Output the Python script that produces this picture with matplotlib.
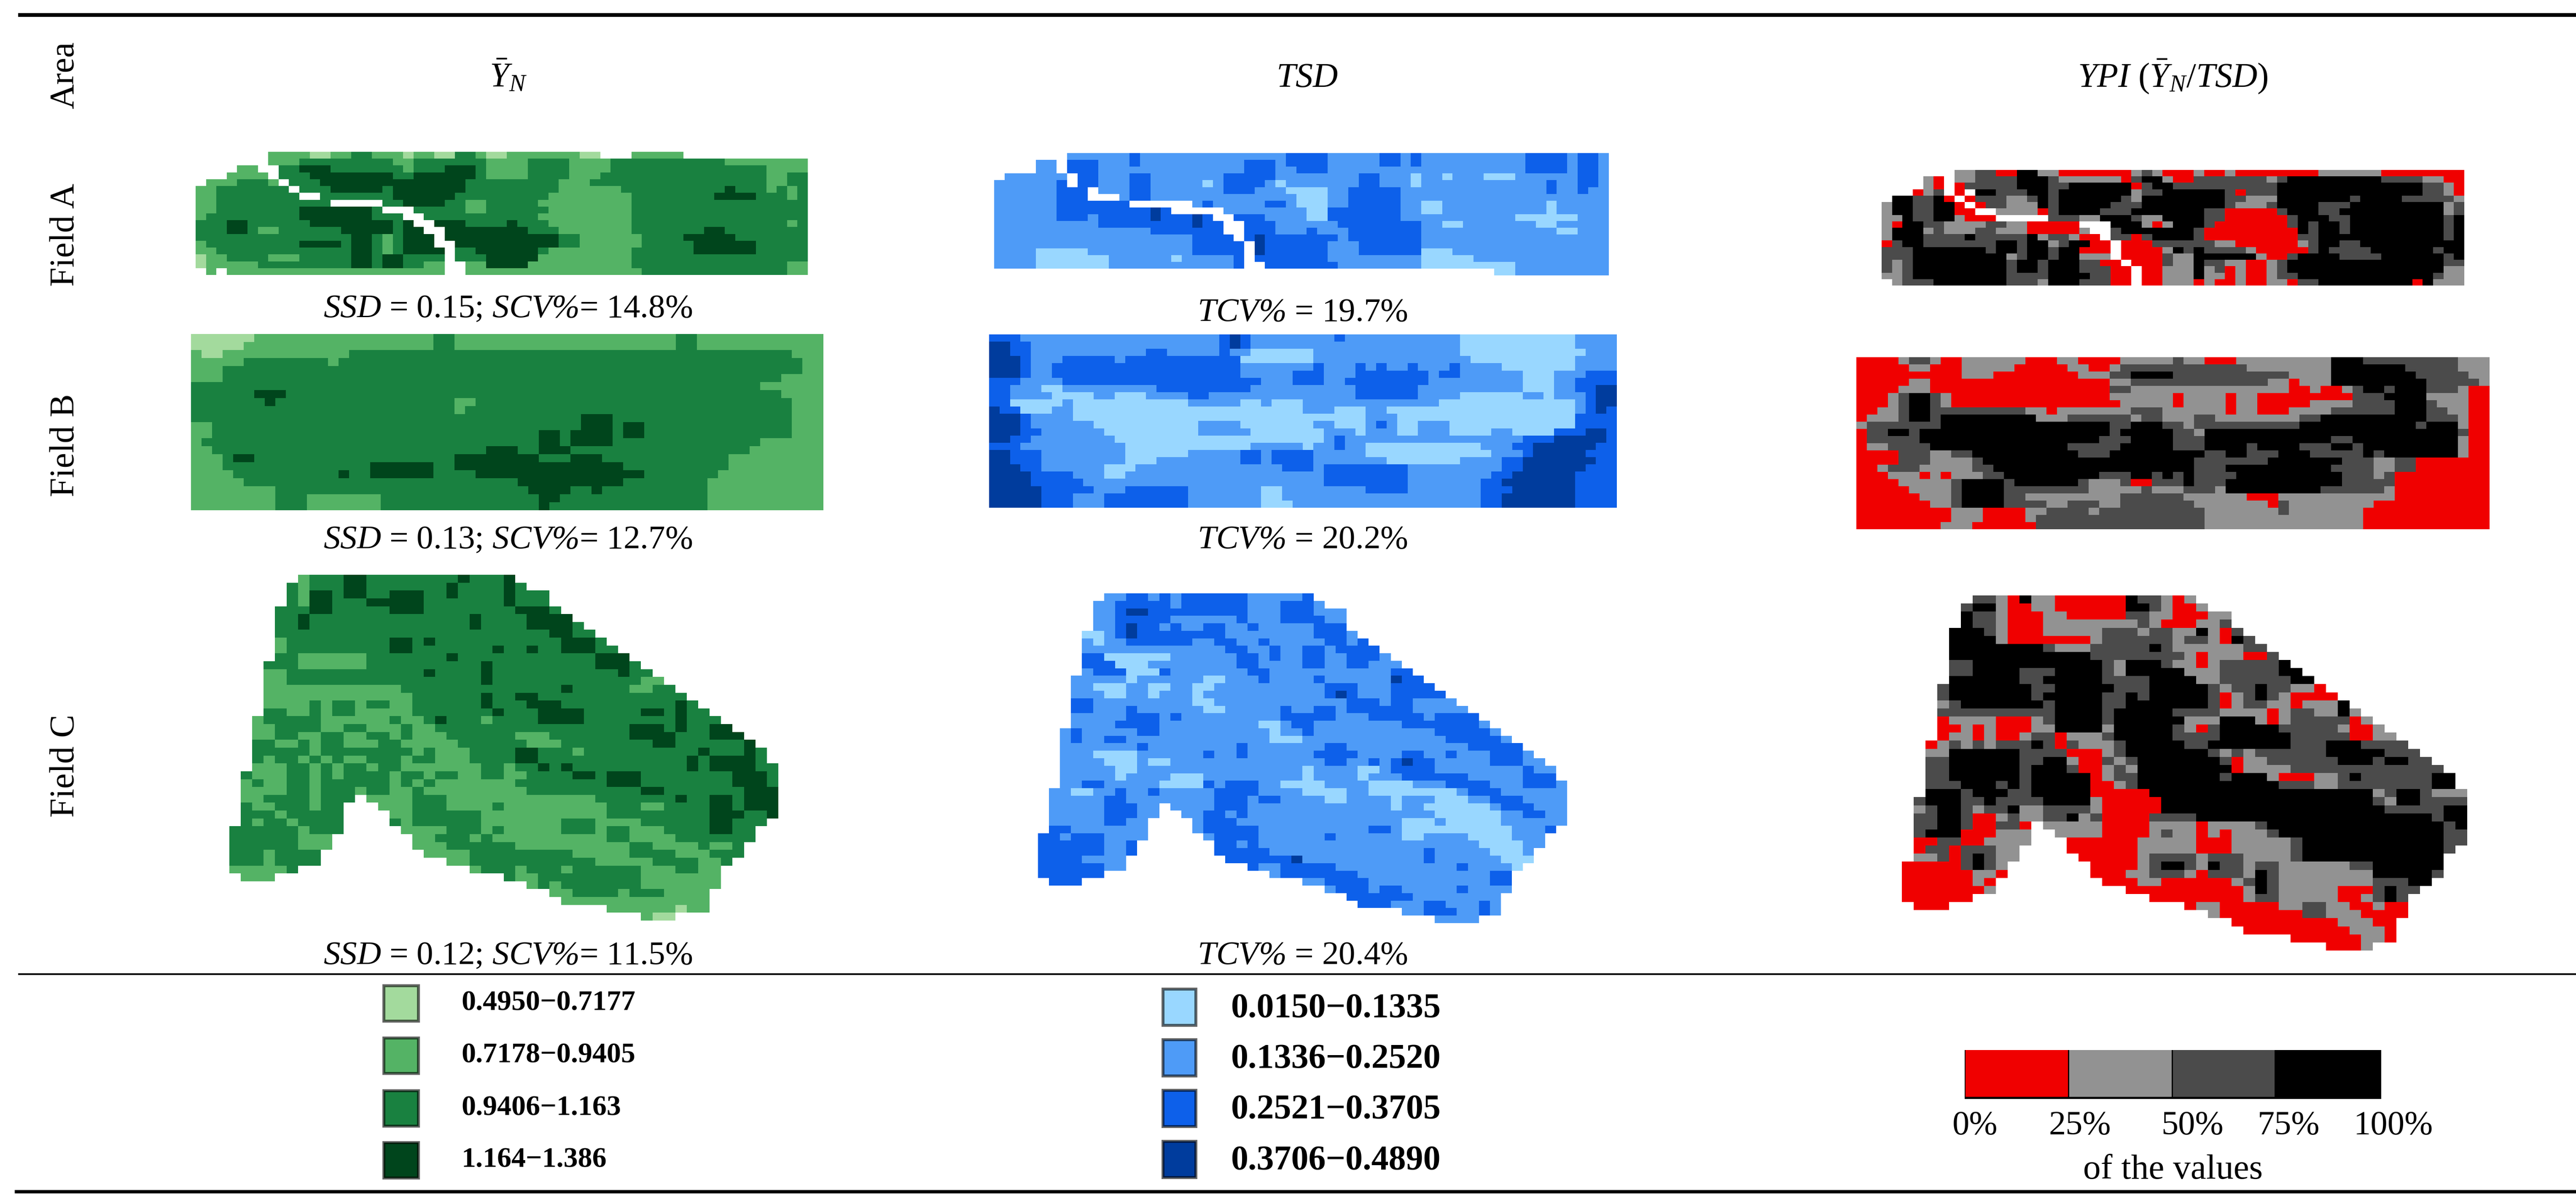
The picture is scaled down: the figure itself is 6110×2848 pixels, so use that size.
import numpy as np
import matplotlib
matplotlib.use("Agg")
import matplotlib.pyplot as plt
from matplotlib.colors import ListedColormap
from matplotlib.patches import Rectangle

plt.rcParams['font.family'] = ['Liberation Serif', 'DejaVu Serif']
plt.rcParams['mathtext.fontset'] = 'custom'
plt.rcParams['mathtext.rm'] = 'Liberation Serif'
plt.rcParams['mathtext.it'] = 'Liberation Serif:italic'
plt.rcParams['mathtext.bf'] = 'Liberation Serif:bold'
plt.rcParams['mathtext.cal'] = 'Liberation Serif:italic'

# class colours of the three map columns
greens = ['#a3da9d', '#54b365', '#198140', '#00451c']
blues = ['#99d7ff', '#4e9bf7', '#0d60ea', '#003c9d']
ypi_colors = ['#f00000', '#929292', '#4b4b4b', '#000000']

green_labels = ['0.4950\u22120.7177', '0.7178\u22120.9405', '0.9406\u22121.163', '1.164\u22121.386']
blue_labels = ['0.0150\u22120.1335', '0.1336\u22120.2520', '0.2521\u22120.3705', '0.3706\u22120.4890']
ypi_ticks = ['0%', '25%', '50%', '75%', '100%']
field_names = ['Field A', 'Field B', 'Field C']
spatial_stats = [r'$SSD$ = 0.15; $SCV\mathcal{\%}$= 14.8%', r'$SSD$ = 0.13; $SCV\mathcal{\%}$= 12.7%', r'$SSD$ = 0.12; $SCV\mathcal{\%}$= 11.5%']
temporal_stats = [r'$TCV\mathcal{\%}$ = 19.7%', r'$TCV\mathcal{\%}$ = 20.2%', r'$TCV\mathcal{\%}$ = 20.4%']

# maps: one character per cell, 1-4 = class, . = outside the field
green_a = [
    ".......222 2112233222 1221133211 222222211. ..22222... .........",
    ".......222 3333333332 2333333322 2233332222 3333333333 322222222",
    "....22..33 4443333333 2333444322 2233332222 3333333333 333332222",
    "...2222.33 3444444443 3444444322 2233332223 3333333333 333332233",
    ".2223332.3 3344444444 4444443333 3333322233 3333333333 333332233",
    "223333333. 3334444434 4444443333 3333322222 2333333333 343332323",
    "2233333333 ..33333334 4444433333 3333222222 2233333333 444433323",
    "2233333333 333.....33 4444332233 3332222222 2233333333 333333333",
    "2233333333 44444443.. .333332233 3333222222 2233333333 333333333",
    "2333333333 4444444333 ..33333333 3332222222 2233333333 333333333",
    "3334433333 3444444443 4..4443333 4333222222 2233333333 333333323",
    "3334432233 3333444443 44..444444 4433322222 2233333334 433333333",
    "3333333333 3333344323 444.444444 4444433222 2223333444 443333333",
    "2333333333 4444344323 444..44444 4444433222 2223333344 444433333",
    "2233333333 3333344323 4444.33444 4443222222 2233333344 444433333",
    "1223333222 3333344344 3333.33344 4442222222 2233333333 333333333",
    "1222223333 3333344344 3322..2244 4422222222 2233333333 333333322",
    ".2.2222222 2222222222 2222..2222 2222222222 2223333333 333333322",
]
green_b = [
    "1111112222 2222222222 2223322222 2222222222 2222223322 2222222222",
    "1111122222 2222222222 2223322222 2222222222 2222223322 2222222222",
    "2112222222 2222233333 3333333333 3333333333 3333333333 3333333222",
    "2222233333 3332333333 3333333333 3333333333 3333333333 3333333322",
    "2223333333 3333333333 3333333333 3333333333 3333333333 3333333322",
    "2223333333 3333333333 3333333333 3333333333 3333333333 3333332222",
    "3333333333 3333333333 3333333333 3333333333 3333333333 3333222222",
    "3333334443 3333333333 3333333333 3333333333 3333333333 3333332222",
    "3333333433 3333333333 3333322333 3333333333 3333333333 3333333222",
    "3333333333 3333333333 3333323333 3333333333 3333333333 3333333222",
    "3333333333 3333333333 3333333333 3333333444 3333333333 3333333222",
    "2233333333 3333333333 3333333333 3333333444 3443333333 3333333222",
    "2233333333 3333333333 3333333333 3334434444 3443333333 3333333222",
    "2333333333 3333333333 3333333333 3334434444 3333333333 3333222222",
    "2233333333 3333333333 3333333344 4334443333 3333333333 3332222222",
    "2223443333 3333333333 3333344444 4443334443 3333333333 3222222222",
    "2223333333 3333333444 4443344444 4444444444 4333333333 3222222222",
    "2222333333 3333433444 4443333444 4444444444 4443333333 2222222222",
    "2222233333 3333333333 3333333333 3444444444 4333333332 2222222222",
    "2222222233 3333333333 3333333333 3344443343 3333333332 2222222222",
    "2222222233 3222222233 3333333333 3334433333 3333333332 2222222222",
    "2222222233 3222222233 3333333333 3334333333 3333333332 2222222222",
]
green_c = [
    "......2333 4433333333 43334",
    ".....32333 4433333334 333343",
    ".....32443 4433444334 33334333",
    ".....32443 3344444333 33334333",
    "....333443 3333444333 333334443",
    "....334333 3333333333 3433334444",
    "....334333 3333333333 3433334444 3",
    "....333333 3333333333 3333333344 33",
    "....233333 3333443433 3333333334 443",
    "....233333 3333443333 3334334334 4433",
    "....332222 2233333334 3333333333 33444",
    "...3332222 2233333333 3343333333 334443",
    "...2233333 3333333433 3343333333 3333433",
    "...2233333 3333333333 3343333333 33333322",
    "...2222222 2222233333 3333333334 333332233",
    "...2222222 2222223333 3343344333 3333333333",
    "...2222323 3233223333 3343334443 3333333334 3",
    "...3322323 3222223333 3334333444 4333334434 33",
    "..23333322 2222322343 3323333444 4333333334 333",
    "..22333322 3322232233 3333333333 3333344434 3344",
    "..22332233 2233232223 3333322233 3333344443 33444",
    "..33223233 2223322222 3333332223 3333333443 333334",
    "..33333233 3333332322 2333344333 2333333333 3433343",
    "..32332323 2233323322 2333344333 3333333333 4344443",
    "..22233232 3323322222 2233233434 3333333333 43444433",
    ".322233232 3333233233 2233223333 4434443333 33334443",
    ".232233233 3333232322 2222233333 3334443333 33334443",
    ".222233233 3233223222 2222223333 3333334433 33333444",
    ".223333233 3.22223332 2222222222 2233333334 33443444",
    ".322333233 ...2223332 2223222222 2223332233 33443444",
    ".333233333 ....223333 3322222222 2223333333 33444334",
    ".323323333 ....323333 3322222223 3322223333 3344333",
    "3333332333 .....22223 3323222223 3323322233 334433",
    "333333222. ......2233 3232222222 2223322223 333333",
    "333333222. ......2223 3333322222 2222233222 23223",
    "33323333.. .......222 2333333333 2222233332 22333",
    "33323333.. .........2 2333333333 3322222333 3223",
    "222223.... .......... .233323332 3333332223 322",
    ".222...... .......... ....322333 3333332222 222",
    ".......... .......... ......2323 3333332222 222",
    ".......... .......... ........22 3333233322 22",
    ".......... .......... .........2 2222222222 22",
    ".......... .......... .......... ...2222221 22",
    ".......... .......... .......... ......211.",
]
blue_a = [
    ".......222 2223222222 2222222233 3322222332 3222222222 233332332",
    "....22.333 2223222222 2222333233 3322222332 3222222222 233332332",
    "....22.333 2222222222 2222333223 3322222222 2222222222 233332332",
    ".222222.33 2223322222 2233333222 2222233222 1221222111 222222332",
    "2222223.33 2223322222 1233332122 2222233222 1222222222 222322332",
    "222222333. 2223322222 2233322211 1122333332 2222222222 222322322",
    "222222333. ..23322222 2222222221 1122333332 2222222222 222222222",
    "2222223333 333......2 3222223321 1122333332 2112222222 222122222",
    "2222223333 3333343... ..22222222 1133333332 2112222222 222122222",
    "2222223332 3333343334 3..3332222 1133333332 2222222222 111111222",
    "2222222222 3333333334 33..333222 2223333333 3221122222 221122222",
    "2222222222 2222233333 33..333222 3222333333 3222222222 222211222",
    "2222222222 2222222223 333.343333 3332333333 3222222222 222222222",
    "2222222222 2222222223 3333.43333 3322233333 3222222222 222222222",
    "2222111112 2222222223 3333.43333 3322233333 3111222222 222222222",
    "2222111111 1222222122 2223.33333 3322222222 2111112222 222222222",
    "2222111111 1222222222 2223..3333 3332222222 2111111111 222222222",
    ".......... .......... .......... .......... ........11 222222222",
]
blue_b = [
    "3332222222 2222222222 2234322222 2223222222 2222211111 1111112222",
    "4433222222 2222222222 2234322222 2222222222 2222211111 1111112222",
    "4433222222 2222233222 2232211111 1222222222 2222211111 1111111222",
    "4443222333 3323333333 3333111111 1222222222 2222221111 1111112222",
    "4443223333 3333333333 3333222222 2322232322 3222322221 1111112222",
    "4443223333 3333333333 3333222223 3322233333 3323322222 2111222333",
    "3332222333 3333333333 3333332223 3322333333 3322222222 2111223333",
    "3322211222 2222223333 3333322222 2222233333 3222222222 2111223344",
    "3322221111 2211122223 3222222222 2222233333 3222211111 1221222344",
    "3311111211 1111111112 2222112111 2222222222 2221111111 1111112344",
    "4331112211 1111111111 1111111111 2221112211 1111111111 1111112343",
    "4443222211 1111111111 1111111111 1111112221 1111111111 1111113333",
    "4443222222 1111111111 2222111111 1221112321 1222111111 1111113333",
    "4443322222 2111111111 2222211111 1122212221 1222111122 1111333443",
    "4433222222 2211111111 1111111111 1123222222 2222222222 2333444443",
    "3332222222 2221111111 1111122222 1223221111 1111111222 3344444433",
    "4433322222 2221111112 2222332333 3222221111 1111111122 2344444333",
    "4433322222 2221112222 2222332333 3222222211 1111122223 3444444433",
    "4443322222 2111222222 2222222233 3233333333 2222222223 3444444333",
    "4444333322 2112222222 2222222222 2233333333 2222222233 4444443333",
    "4444333332 2222222222 2222222222 2233333333 2222222334 4444443333",
    "4444433333 2223333332 2222221122 2222223333 2222222333 4444443333",
    "4444433322 2333333332 2222221122 2222222222 2222222334 4444443333",
    "4444433322 2333333332 2222221112 2222222222 2222222334 4444443333",
]
blue_c = [
    "......2233 2323333332 22223",
    ".....22333 3323333332 223332",
    ".....22344 3333333332 22333222",
    ".....22333 3322222232 22333322",
    ".....22343 3232233223 22222333",
    "....112343 3333333222 222223332",
    "....212233 3333223322 3222223323",
    "....222222 2222222332 2322332333 3",
    "....331111 1122222233 2322332233 32",
    "....333111 2222222233 2222332233 222",
    "....233311 1322222223 3222222222 2233",
    "...2222212 2222211222 3222232222 22433",
    "...2211122 1122112222 2222223332 223333",
    "...2221122 1222122222 2222223432 2233333",
    "...3322222 2222112222 2222222233 32332222",
    "...3322232 2222211222 2232233233 333322222",
    "...2222233 3232222222 2233333222 3333323333",
    "...2222333 3222222222 1123322222 2223333333 2",
    "..23222223 3222222222 2122322222 2222223333 32",
    "..23223322 2222222222 2111222222 2222222333 332",
    "..22222223 2222222232 2222223322 2222222223 3333",
    "..22211112 2222232232 2222233332 2223322322 23332",
    "..22221112 1122222222 2222223322 3234332222 233322",
    "..22222112 2222222222 2222122221 1233332222 2222322",
    "..22222122 2211122222 2222122221 2223333332 2222333",
    "..22332222 2111132333 2211112222 1111222333 32223332",
    ".221122322 3222223333 2222111122 1111111123 33222222",
    ".222223322 2222223332 3322221122 2212221112 23332222",
    ".222223332 2.22223332 2222222222 2212211111 12333222",
    ".222223332 2..2233232 2222222222 2222221111 11223322",
    ".222223322 ....233322 2222222222 2221112111 11222222",
    ".332222222 ....233333 2222222222 3321111111 1112223",
    "3323332222 .....23333 2222223222 2221122221 111222",
    "333333223. ......3323 2222222222 2222222222 111122",
    "333333223. ......3333 3222222222 2222232222 21112",
    "33332222.. .......333 3334222222 2222232222 22111",
    "33333322.. .........3 2233333222 2222222232 2221",
    "333333.... .......... .233333332 2222222222 233",
    ".333...... .......... ....223333 2222222222 233",
    ".......... .......... ......2333 2332222232 222",
    ".......... .......... ........33 3333222222 22",
    ".......... .......... .........3 3322233222 32",
    ".......... .......... .......... ...2233322 32",
    ".......... .......... .......... ......2222",
]
ypi_a = [
    ".......223 3114422111 1111232111 2112111111 1122222211 111111",
    "....21.223 3334443222 2221344211 3333333234 4444444433 332211",
    "....21.133 3334443344 4444134433 3333333344 4444444444 443321",
    "...123.1.4 4333443444 4444233444 4443133344 4444444444 443321",
    ".443341.13 3322343444 4443244444 4443322244 4444434444 333332",
    "24433441.1 3322243444 4433344444 4443222344 4433344444 444423",
    "244334411. .222213444 4333444444 4331111134 4433444444 444423",
    "2243344211 1.....3332 2444322444 4331111113 4443344444 444434",
    "2144332222 332211111. ..44421244 4311111113 4344344444 444434",
    "2444232223 3222111112 ..34444444 3111111111 4344344444 444434",
    "2444333343 3333423321 1.33134444 3111111111 3344444444 444434",
    "1344333333 3443442344 11.1113333 3322111111 2344334444 444444",
    "3334444444 3443443441 11.1111243 4333321111 1343333444 444344",
    "3334444444 4423443442 22.1111322 4444442113 4444333344 444434",
    "3234444444 4434434443 311.111322 4332211234 4444444444 444433",
    "3234444444 4434434443 3311.11222 4231211234 4444444444 444422",
    "2234444444 4433334444 3311.11222 4221211233 4444444444 444322",
    ".233344444 4433324443 3311.11222 1211211221 3344444444 414222",
]
ypi_b = [
    "1111233211 2222221112 2111122222 3221112222 2222244433 3333333222",
    "1111122111 2222211111 2211233333 3333333222 2222244444 4433333222",
    "1111111111 2221111111 1222334444 3333333333 3222244444 4443333322",
    "1111122111 1111111111 1111223333 3333333332 2122244444 4444333332",
    "1111222111 1111111111 1111332222 2222222222 2112112344 3444333211",
    "1112344321 1111111111 1111222222 1222212211 1111111333 4444222211",
    "1112344321 1111111111 1111122222 1222212211 1112222333 3444322211",
    "1122344333 3333332212 2222223332 2222212211 1222233333 3444332211",
    "1222344344 4444444222 3333332332 2233222222 2233444444 4444333211",
    "2333333344 4444444444 4444334443 3233333333 3344444444 4443444211",
    "1334434444 4444444444 4444344444 3324444444 4444444444 4444444311",
    "1333334444 4444444444 4443334444 3334444444 4444433444 4444444211",
    "1223333444 4444444444 3333344444 3334444344 4433344344 4444444211",
    "1111333223 3444444444 4333444444 4443344333 4443333343 4444444211",
    "1111333222 2344444444 4444444444 4433333334 4444443332 2331111111",
    "1123332222 2334444444 4444444444 4433344444 4444433332 2331111111",
    "1112221212 2233444444 4443334434 3433334444 4444443332 3111111111",
    "1111222223 4444344444 4322231133 3433344444 4444443333 3111111111",
    "1111122223 4444333333 3322222322 2333244444 4444333333 2111111111",
    "1111112223 4444332222 2222233333 3222222111 2222222222 2111111111",
    "1111111223 4444333322 3332233333 3322222221 3222222221 1111111111",
    "1111111112 2211112233 3323333333 3332222222 3222222211 1111111111",
    "1111111112 2211112333 3333333333 3332222222 2222222211 1111111111",
    "1111111122 2111111333 3333333333 3332222222 2222222211 1111111111",
]
ypi_c = [
    "......3321 4221111114 33212",
    ".....34421 1221111114 432112",
    ".....43321 1122111113 32211122",
    ".....43321 1122222222 32111223",
    "....444321 1122222333 233224213",
    "....444421 1111112333 3332332143",
    "....444444 4432223333 3432222223 3",
    "....444444 4444443333 3333212221 13",
    "....334444 4444444324 4432212333 334",
    "....334444 3334444324 4444222333 3344",
    "....444444 3344444333 3444422333 33344",
    "...3444444 4334444433 3444443233 433221",
    "...3444444 4344444334 3444443123 4321111",
    "...2344444 4434444334 4444443123 32212224",
    "...3333333 3334444344 4443333222 212332242",
    "...1222211 1234444344 4444222444 2123333312",
    "...1121211 1224444244 4443213444 4433333211 2",
    "...1221211 2331222344 4443333444 4443333311 22",
    "..12323233 3431322234 4444334444 4443334443 333",
    "..22444444 3333111234 4444443232 3333334444 4333",
    "..33444444 3344211323 4444444312 2333333444 34433",
    "..33444444 3444311232 4444444412 2223333333 333333",
    "..33444444 3444441233 4444444344 4211122343 3333344",
    "..33344434 3444441123 4444444444 4433322333 3333344",
    "..44434443 3444441111 1444444444 4444444444 23443222",
    ".344433433 3344442111 1144444444 4444444444 32443333",
    ".234432334 2233332111 1144444444 4444444444 43333344",
    ".334431123 2233423111 1333344444 4444444444 44444344",
    ".334431133 1.22222111 1222212222 3444444444 44444434",
    ".344411122 2..2222111 1232212122 2344444444 44444433",
    ".113311222 2...111111 2222211122 2223444444 44444433",
    ".133133322 ....111111 2222211122 2223444444 4444443",
    ".223134322 .....11111 2333323332 2223444444 444444",
    "111113432. ......1111 2344324332 3322222233 444444",
    "111111221. ......1112 2333213332 4322222222 444443",
    "11111121.. .......111 2211111123 4322222222 33344",
    "11111112.. .........1 1111111112 4322222111 3433",
    "111111.... .......... .111111112 3322222112 343",
    ".111...... .......... ....122111 1122332211 211",
    ".......... .......... ......2111 1111332221 111",
    ".......... .......... ........11 1111111222 11",
    ".......... .......... .........1 1111111122 21",
    ".......... .......... .......... ...1111112 21",
    ".......... .......... .......... ......1112",
]


def to_grid(rows):
    rows = [r.replace(" ", "") for r in rows]
    ncols = max(len(r) for r in rows)
    grid = np.full((len(rows), ncols), np.nan)
    for i, r in enumerate(rows):
        for j, ch in enumerate(r):
            if ch != ".":
                grid[i, j] = int(ch)
    return np.ma.masked_invalid(grid)


fig = plt.figure(figsize=(61.1, 28.48), dpi=100)
ax = fig.add_axes([0, 0, 1, 1])

# left, right, bottom, top in pixels of the page
panels = [
    (green_a, greens, (464, 1916, 652, 360)),
    (green_b, greens, (453, 1953, 1210, 792)),
    (green_c, greens, (544, 1846, 2183, 1363)),
    (blue_a, blues, (2358, 3816, 653, 363)),
    (blue_b, blues, (2346, 3835, 1204, 793)),
    (blue_c, blues, (2462, 3717, 2189, 1407)),
    (ypi_a, ypi_colors, (4463, 5845, 677, 403)),
    (ypi_b, ypi_colors, (4403, 5905, 1255, 847)),
    (ypi_c, ypi_colors, (4511, 5852, 2254, 1412)),
]
for rows, colors, extent in panels:
    ax.imshow(to_grid(rows), cmap=ListedColormap(colors), vmin=0.5, vmax=4.5,
              extent=extent, aspect='auto', interpolation='nearest')

ax.set_xlim(0, 6110)
ax.set_ylim(2848, 0)
ax.axis('off')

# table rules
ax.add_patch(Rectangle((43, 31), 6067, 9, color='black', lw=0))
ax.add_patch(Rectangle((43, 2308), 6067, 4, color='black', lw=0))
ax.add_patch(Rectangle((35, 2822), 6075, 8, color='black', lw=0))

# header row
ax.text(155, 178, 'Area', rotation=90, fontsize=59, ha='center', va='center')
ax.text(1206, 206, r'$\bar{Y}_N$', fontsize=59, ha='center', va='baseline')
ax.text(3100, 206, r'$TSD$', fontsize=59, ha='center', va='baseline')
ax.text(5154, 206, r'$YPI$ $(\bar{Y}_N/TSD)$', fontsize=59, ha='center', va='baseline')

# row labels and statistics under the maps
for name, yc in zip(field_names, [557, 1056, 1816]):
    ax.text(155, yc, name, rotation=90, fontsize=59, ha='center', va='center')
for s, yb in zip(spatial_stats, [752, 1300, 2286]):
    ax.text(1205, yb, s, fontsize=57, ha='center', va='baseline')
for s, yb in zip(temporal_stats, [761, 1300, 2286]):
    ax.text(3089, yb, s, fontsize=57, ha='center', va='baseline')

# legends of the first two columns
green_boxes = [2333, 2457, 2582, 2705]
for col, lab, y0 in zip(greens, green_labels, green_boxes):
    ax.add_patch(Rectangle((910, y0 + 4), 82, 84, facecolor=col, edgecolor=(0, 0, 0, 0.6), lw=5))
    ax.text(1094, y0 + 46, lab, fontsize=49, fontweight='bold', ha='left', va='center')
blue_boxes = [2341, 2461, 2581, 2702]
for col, lab, y0 in zip(blues, blue_labels, blue_boxes):
    ax.add_patch(Rectangle((2758, y0 + 4), 78, 86, facecolor=col, edgecolor=(0, 0, 0, 0.6), lw=5))
    ax.text(2920, y0 + 51, lab, fontsize=59, fontweight='bold', ha='left', va='center')

# YPI colour bar
ax.add_patch(Rectangle((4660, 2490), 988, 116, color='black', lw=0))
bar_edges = [4662, 4908, 5154, 5398, 5648]
for i, col in enumerate(ypi_colors):
    ax.add_patch(Rectangle((bar_edges[i], 2490), bar_edges[i + 1] - bar_edges[i] - 3, 111, color=col, lw=0))
for tick, xc in zip(ypi_ticks, [4685, 4933, 5200, 5429, 5677]):
    ax.text(xc, 2690, tick, fontsize=58, ha='center', va='baseline')
ax.text(5154, 2795, 'of the values', fontsize=60, ha='center', va='baseline')

fig.savefig('out.png', dpi=100, facecolor='white')
plt.close(fig)
